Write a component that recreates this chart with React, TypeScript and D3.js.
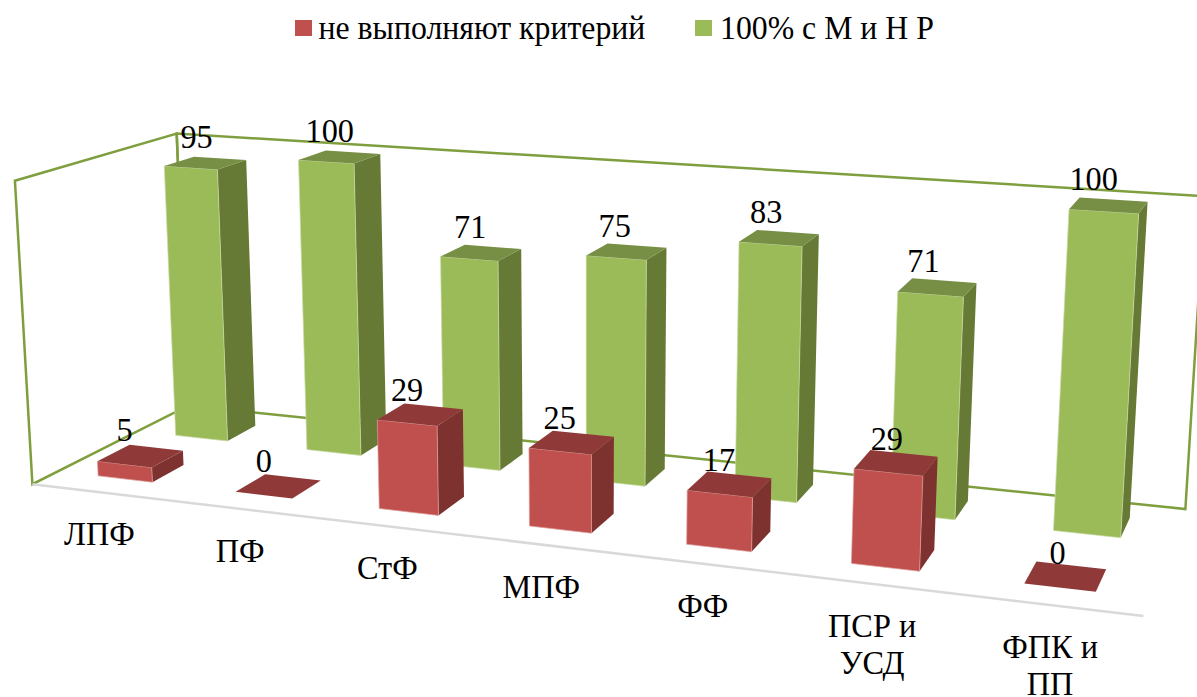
import React from "react";
import * as d3 from "d3";

const categories = [["ЛПФ"],["ПФ"],["СтФ"],["МПФ"],["ФФ"],["ПСР и","УСД"],["ФПК и","ПП"]];
const seriesNames = ["не выполняют критерий","100% с М и Н Р"];
const redValues = [5,0,29,25,17,29,0];
const greenValues = [95,100,71,75,83,71,100];

// Perspective camera of the 3-D chart (homogeneous projection coefficients)
const C = [133.9407,-17.92396,89.04062,32.39250,5.494852,-308.9736,-14.80473,484.1535,-0.02166892,-0.03048095,0.06010164];
const project=(X:number,Y:number,Z:number):[number,number]=>{const w=C[8]*X+C[9]*Y+C[10]*Z+1;return [(C[0]*X+C[1]*Y+C[2]*Z+C[3])/w,(C[4]*X+C[5]*Y+C[6]*Z+C[7])/w];};

const xBand=d3.scaleBand<number>().domain(d3.range(7)).range([0,7]).paddingInner(.6).paddingOuter(.3);
const zBand=d3.scaleBand<number>().domain([0,1]).range([0,2]).paddingInner(.6).paddingOuter(.3);
const y=d3.scaleLinear().domain([0,100]).range([0,1]);
const poly=(a:[number,number][])=>d3.line()(a)+"Z";
const RED={front:"#C0504D",top:"#8F3A38",side:"#7E3230",edge:"#DCA09E"};
const GREEN={front:"#9BBB59",top:"#778F45",side:"#667A35",edge:"#C9DAA4"};
const F="'Liberation Serif'";

function T({x,y:yy,anchor,sx=0.95,children}:any){
  return <text transform={`translate(${x},${yy}) scale(${sx},1)`} textAnchor={anchor} fontFamily={F} fontSize={34}>{children}</text>;
}
function Bar({i,s,v,col}:any){
  const x0=xBand(i)!,x1=x0+xBand.bandwidth(),z0=zBand(s)!,z1=z0+zBand.bandwidth(),h=y(v);
  return <g>
    {v>0&&<path d={poly([project(x1,0,z0),project(x1,0,z1),project(x1,h,z1),project(x1,h,z0)])} fill={col.side}/>}
    {v>0&&<path d={poly([project(x0,0,z0),project(x1,0,z0),project(x1,h,z0),project(x0,h,z0)])} fill={col.front} stroke={col.edge} strokeWidth={0.7}/>}
    <path d={poly([project(x0,h,z0),project(x1,h,z0),project(x1,h,z1),project(x0,h,z1)])} fill={col.top}/>
  </g>;
}
export default function App(){
  const order=d3.range(7);
  const dxG=d3.scaleLinear().domain([0,6]).range([-9,-15]);
  const dxR=d3.scaleLinear().domain([0,6]).range([-16,-8]);
  const dyR=d3.scaleLinear().domain([0,6]).range([-15,-12]);
  const lab=(i:number,s:number,v:number)=>{const x0=xBand(i)!+xBand.bandwidth()/2,z=zBand(s)!+zBand.bandwidth()/2;const q=project(x0,y(v),z);
    return <T key={s+"-"+i} x={q[0]+(s?dxG(i):dxR(i))} y={q[1]+(s?-15:dyR(i))} anchor="middle">{v}</T>;};
  return <svg width={1197} height={697} style={{position:"fixed",left:0,top:0,background:"#fff"}}>
    <path d={poly([project(0,0,0),project(0,1,0),project(0,1,2),project(0,0,2)])} fill="none" stroke="#7F9F3F" strokeWidth={2.5}/>
    <path d={poly([project(0,0,2),project(0,1,2),project(7,1,2),project(7,0,2)])} fill="none" stroke="#7F9F3F" strokeWidth={2.5}/>
    <path d={d3.line()([project(0,0,0),project(7,0,0)])!} fill="none" stroke="#D9D9D9" strokeWidth={2.5}/>
    {order.map(i=><Bar key={i} i={i} s={1} v={greenValues[i]} col={GREEN}/>)}
    {order.map(i=><Bar key={i} i={i} s={0} v={redValues[i]} col={RED}/>)}
    {order.map(i=>lab(i,1,greenValues[i]))}
    {order.map(i=>lab(i,0,redValues[i]))}
    {categories.map((c,i)=>{const q=project(i+.5,0,0);return <g key={i}>{c.map((t,k)=><T key={k} x={q[0]-1} y={q[1]+53+k*37} anchor="middle">{t}</T>)}</g>;})}
    <rect x={295} y={20} width={17} height={16} fill={RED.front}/>
    <T x={318.5} y={39} anchor="start" sx={0.935}>{seriesNames[0]}</T>
    <rect x={695} y={20} width={17} height={16} fill={GREEN.front}/>
    <T x={720} y={39} anchor="start" sx={0.935}>{seriesNames[1]}</T>
  </svg>;
}
